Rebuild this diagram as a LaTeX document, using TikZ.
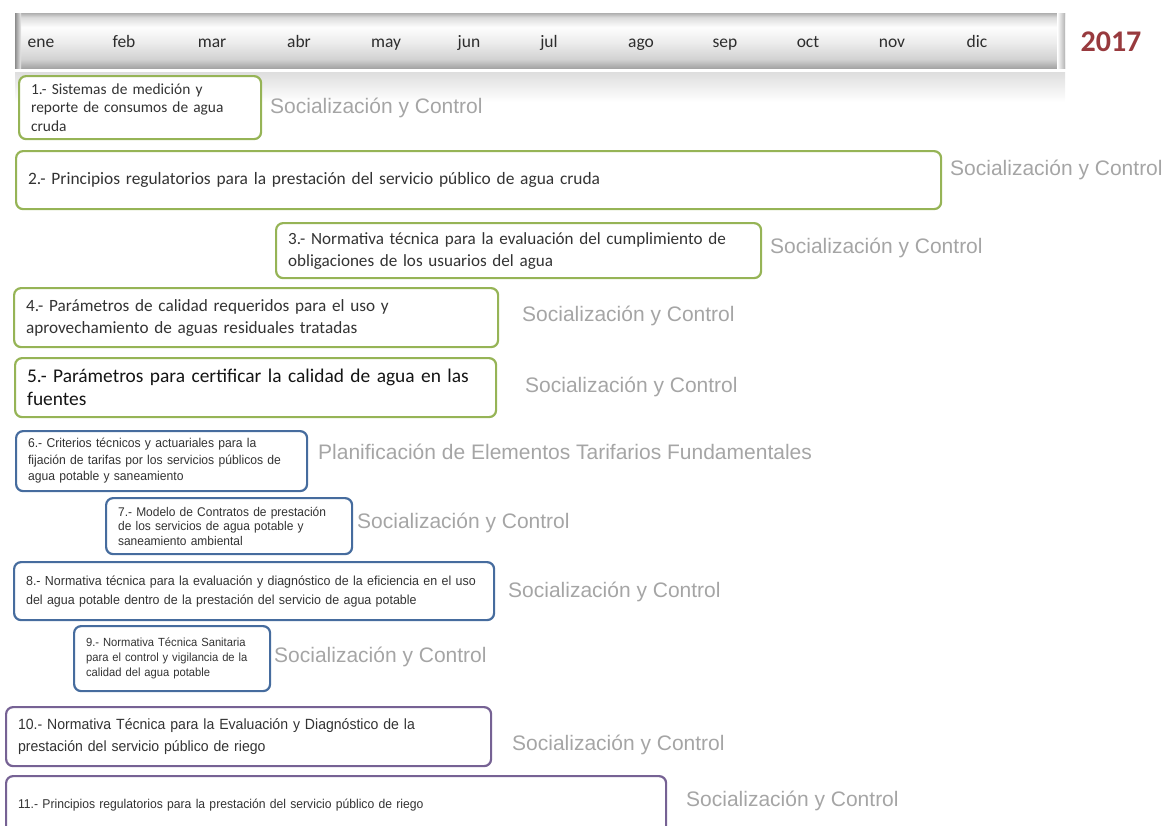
\documentclass[tikz,border=0pt]{standalone}
\usepackage{fontspec}
\setmainfont{Carlito}
\newfontfamily\arialn[FakeStretch=0.95]{Liberation Sans}
\newfontfamily\arialf{Liberation Sans}
\definecolor{gborder}{RGB}{150,180,86}
\definecolor{bborder}{RGB}{70,108,158}
\definecolor{pborder}{RGB}{118,98,148}
\definecolor{labelgray}{RGB}{165,165,165}
\definecolor{yearred}{RGB}{152,58,62}
\definecolor{monthtxt}{RGB}{45,45,45}
\definecolor{bA}{RGB}{165,165,165}
\definecolor{bB}{RGB}{210,210,210}
\definecolor{bC}{RGB}{236,236,236}
\definecolor{bD}{RGB}{253,253,253}
\definecolor{bE}{RGB}{220,220,220}
\definecolor{bF}{RGB}{175,175,175}
\pgfdeclareverticalshading{barshade}{100bp}{color(0bp)=(bA); color(25bp)=(bA); color(33bp)=(bB); color(48bp)=(bC); color(62bp)=(bD); color(71bp)=(bE); color(75bp)=(bF); color(100bp)=(bF)}
\tikzset{
  box/.style={draw, line width=2.2pt, rounded corners=7pt, fill=white, anchor=north west,
    inner xsep=12pt, inner ysep=2pt, align=left, text=black!80},
  gbox/.style={box, draw=gborder},
  bbox/.style={box, draw=bborder},
  pbox/.style={box, draw=pborder},
  lbl/.style={anchor=west, inner sep=0pt, text=labelgray, font=\arialf\fontsize{21}{24}\selectfont},
  month/.style={anchor=base, inner sep=0pt, text=monthtxt, font=\fontsize{17.5}{20}\selectfont},
}
\begin{document}
\begin{tikzpicture}[x=1pt,y=-1pt]
\useasboundingbox (0,0) rectangle (1167,825);
% timeline bar and reflection
\shade[top color=black!13, bottom color=white] (15,72) rectangle (1065,102);
\shade[shading=barshade] (15,13) rectangle (1065,68);
\shade[left color=black!45, right color=black!8] (15,13) rectangle (21,68);
\shade[left color=white, right color=black!30] (1057,13) rectangle (1065,68);
% months
\node[month] (m1) at (41,47) {ene};
\node[month] (m2) at (124,47) {feb};
\node[month] (m3) at (212,47) {mar};
\node[month] (m4) at (299,47) {abr};
\node[month] (m5) at (386,47) {may};
\node[month] (m6) at (469,47) {jun};
\node[month] (m7) at (549,47) {jul};
\node[month] (m8) at (641,47) {ago};
\node[month] (m9) at (725,47) {sep};
\node[month] (m10) at (808,47) {oct};
\node[month] (m11) at (892,47) {nov};
\node[month] (m12) at (977,47) {dic};
\node[inner sep=0pt, text=yearred, font=\bfseries\fontsize{30}{34}\selectfont] (year) at (1111,42) {2017};
% boxes
\node[gbox, minimum width=242pt, minimum height=63pt, text width=218pt,
  font=\fontsize{15.4}{18.5}\selectfont] (b1) at (18,75)
  {1.- Sistemas de medición y\\reporte de consumos de agua\\cruda};
\node[gbox, minimum width=925pt, minimum height=58pt, text width=901pt,
  font=\fontsize{17.4}{20}\selectfont] (b2) at (15,150)
  {2.- Principios regulatorios para la prestación del servicio público de agua cruda};
\node[gbox, minimum width=485pt, minimum height=55pt, text width=461pt,
  font=\fontsize{17.1}{22}\selectfont] (b3) at (275,222)
  {3.- Normativa técnica para la evaluación del cumplimiento de\\obligaciones de los usuarios del agua};
\node[gbox, minimum width=484pt, minimum height=59pt, text width=460pt,
  font=\fontsize{17.2}{22}\selectfont] (b4) at (13,287)
  {4.- Parámetros de calidad requeridos para el uso y\\aprovechamiento de aguas residuales tratadas};
\node[gbox, minimum width=481pt, minimum height=59pt, text width=457pt, text=black!92,
  font=\fontsize{19.4}{23}\selectfont] (b5) at (14,357)
  {5.- Parámetros para certificar la calidad de agua en las\\fuentes};
\node[bbox, minimum width=291pt, minimum height=60pt, text width=267pt,
  font=\arialn\fontsize{12.8}{16.5}\selectfont] (b6) at (15,430)
  {6.- Criterios técnicos y actuariales para la\\fijación de tarifas por los servicios públicos de\\agua potable y saneamiento};
\node[bbox, minimum width=246pt, minimum height=56pt, text width=222pt,
  font=\arialn\fontsize{12.6}{14.5}\selectfont] (b7) at (105,497)
  {7.- Modelo de Contratos de prestación\\de los servicios de agua potable y\\saneamiento ambiental};
\node[bbox, minimum width=480pt, minimum height=58pt, text width=456pt,
  font=\arialn\fontsize{13.1}{19}\selectfont] (b8) at (13,561)
  {8.- Normativa técnica para la evaluación y diagnóstico de la eficiencia en el uso\\del agua potable dentro de la prestación del servicio de agua potable};
\node[bbox, minimum width=196pt, minimum height=65pt, text width=172pt,
  font=\arialn\fontsize{11.8}{15}\selectfont] (b9) at (73,625)
  {9.- Normativa Técnica Sanitaria\\para el control y vigilancia de la\\calidad del agua potable};
\node[pbox, minimum width=485pt, minimum height=59pt, text width=461pt,
  font=\arialn\fontsize{14.8}{22}\selectfont] (b10) at (5,706)
  {10.- Normativa Técnica para la Evaluación y Diagnóstico de la\\prestación del servicio público de riego};
\node[pbox, minimum width=660pt, minimum height=58pt, text width=636pt,
  font=\arialn\fontsize{12.8}{15}\selectfont] (b11) at (5,775)
  {11.- Principios regulatorios para la prestación del servicio público de riego};
% phase labels
\node[lbl] (l1) at (270,108) {Socialización y Control};
\node[lbl] (l2) at (950,170) {Socialización y Control};
\node[lbl] (l3) at (770,248) {Socialización y Control};
\node[lbl] (l4) at (522,316) {Socialización y Control};
\node[lbl] (l5) at (525,387) {Socialización y Control};
\node[lbl] (l6) at (318,452) {Planificación de Elementos Tarifarios Fundamentales};
\node[lbl] (l7) at (357,523) {Socialización y Control};
\node[lbl] (l8) at (508,592) {Socialización y Control};
\node[lbl] (l9) at (274,657) {Socialización y Control};
\node[lbl] (l10) at (512,745) {Socialización y Control};
\node[lbl] (l11) at (686,801) {Socialización y Control};
\end{tikzpicture}
\end{document}
